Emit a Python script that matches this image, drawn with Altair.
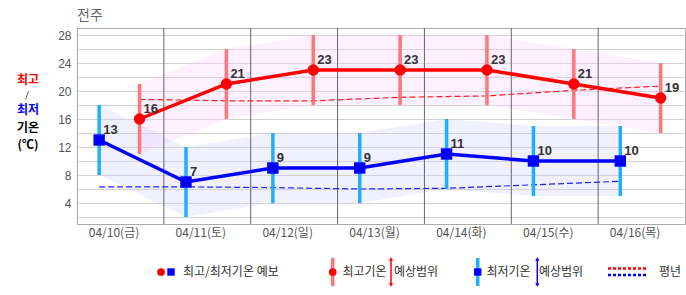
import json
import altair as alt
import pandas as pd

days = ["04/10(금)", "04/11(토)", "04/12(일)", "04/13(월)", "04/14(화)", "04/15(수)", "04/16(목)"]
tmax = [16, 21, 23, 23, 23, 21, 19]
tmin = [13, 7, 9, 9, 11, 10, 10]
max_lo = [11, 16, 18, 18, 18, 16, 14]
max_hi = [21, 26, 28, 28, 28, 26, 24]
min_lo = [8, 2, 4, 4, 6, 5, 5]
min_hi = [18, 12, 14, 14, 16, 15, 15]
norm_max = [18.8, 18.6, 18.6, 19.1, 19.3, 20.1, 20.7]
norm_min = [6.3, 6.3, 6.2, 6.0, 6.1, 6.6, 7.1]

n = len(days)
df = pd.DataFrame({
    "idx": list(range(n)),
    "day": days,
    "tmax": tmax, "tmin": tmin,
    "max_lo": max_lo, "max_hi": max_hi,
    "min_lo": min_lo, "min_hi": min_hi,
    "nmax": norm_max, "nmin": norm_min,
})
df["xmax"] = df["idx"] + 0.72
df["xmin"] = df["idx"] + 0.255
bounds = pd.DataFrame({"b": list(range(1, n))})

KR = "Noto Sans CJK KR"
xs = alt.Scale(domain=[0, n], nice=False, zero=False)
ys = alt.Scale(domain=[1, 29], nice=False, zero=False)
xaxis = alt.Axis(values=[i + 0.42 for i in range(n)],
                 labelExpr=json.dumps(days, ensure_ascii=False) + "[floor(datum.value)]",
                 grid=False, ticks=False, title=None, labelFont=KR, labelFontSize=12,
                 labelColor="#555", labelPadding=3, domainColor="#aaa")
yaxis = alt.Axis(values=list(range(2, 29, 2)),
                 labelExpr="datum.value % 4 == 0 ? datum.label : ''",
                 grid=True, gridColor="#d2d2d2", ticks=False, title=None,
                 labelFont="Liberation Sans", labelFontSize=12, labelColor="#555",
                 labelPadding=6, domainColor="#aaa")


def X(f):
    return alt.X(f, type="quantitative", scale=xs, axis=xaxis)


def Y(f):
    return alt.Y(f, type="quantitative", scale=ys, axis=yaxis)


base = alt.Chart(df)

pink = base.mark_area(color="#ffccff", opacity=0.3).encode(x=X("xmax"), y=Y("max_lo"), y2="max_hi")
lav = base.mark_area(color="#ccccff", opacity=0.3).encode(x=X("xmin"), y=Y("min_lo"), y2="min_hi")
vrules = alt.Chart(bounds).mark_rule(color="#666", strokeWidth=1).encode(x=X("b"))

nmax_l = base.mark_line(color="#ff2020", strokeWidth=1.2, strokeDash=[6, 3]).encode(x=X("xmax"), y=Y("nmax"))
nmin_l = base.mark_line(color="#2020ff", strokeWidth=1.2, strokeDash=[6, 3]).encode(x=X("xmin"), y=Y("nmin"))

rmax = base.mark_rule(color="#ff7777", strokeWidth=3.5).encode(x=X("xmax"), y=Y("max_lo"), y2="max_hi")
rmin = base.mark_rule(color="#1eb0ff", strokeWidth=3.5).encode(x=X("xmin"), y=Y("min_lo"), y2="min_hi")

lmax = base.mark_line(color="#ff0000", strokeWidth=3.5).encode(x=X("xmax"), y=Y("tmax"))
lmin = base.mark_line(color="#0000ff", strokeWidth=3.5).encode(x=X("xmin"), y=Y("tmin"))

pmax = base.mark_point(shape="circle", filled=True, size=130, color="#ff0000", opacity=1).encode(x=X("xmax"), y=Y("tmax"))
pmin = base.mark_point(shape="square", filled=True, size=130, color="#0000ff", opacity=1).encode(x=X("xmin"), y=Y("tmin"))

tstyle = dict(align="left", baseline="middle", dx=4, dy=-10, font="Liberation Sans",
              fontWeight="bold", fontSize=13, color="#333")
tmax_t = base.mark_text(**tstyle).encode(x=X("xmax"), y=Y("tmax"), text="tmax:Q")
tmin_t = base.mark_text(**tstyle).encode(x=X("xmin"), y=Y("tmin"), text="tmin:Q")


def label(txt, x, y, color="#333", size=12, weight="normal", align="left", font=KR):
    return alt.Chart(pd.DataFrame({"t": [txt]})).mark_text(
        align=align, baseline="middle", font=font, fontSize=size, fontWeight=weight, color=color
    ).encode(x=alt.value(x), y=alt.value(y), text="t:N")


one = pd.DataFrame({"k": [0]})


def pt(x, y, shape, color, size):
    return alt.Chart(one).mark_point(shape=shape, filled=True, size=size, color=color, opacity=1).encode(
        x=alt.value(x), y=alt.value(y))


def vbar(x, y1, y2, color, w):
    return alt.Chart(one).mark_rule(color=color, strokeWidth=w).encode(x=alt.value(x), y=alt.value(y1), y2=alt.value(y2))


def hdot(x1, x2, y, color):
    return alt.Chart(one).mark_rule(color=color, strokeWidth=2.5, strokeDash=[3, 2]).encode(
        x=alt.value(x1), x2=alt.value(x2), y=alt.value(y))


extras = [
    label("전주", 0, -12, color="#666", size=14),
    label("최고", -49, 52, color="#ff0000", size=12, weight="bold", align="center"),
    label("/", -50, 66.5, color="#000", size=9, align="center"),
    label("최저", -49, 82, color="#0000ff", size=12, weight="bold", align="center"),
    label("기온", -49, 99.5, color="#000", size=12, weight="bold", align="center"),
    label("(℃)", -49, 116.5, color="#000", size=12, weight="bold", align="center"),
    # legend
    pt(84, 244, "circle", "#ff0000", 60),
    pt(94, 244, "square", "#0000ff", 55),
    label("최고/최저기온 예보", 106, 244),
    vbar(255.7, 230, 258, "#ff7777", 3.5),
    pt(255.7, 244, "circle", "#ff0000", 60),
    label("최고기온", 265.5, 244),
    vbar(314, 232, 256, "#ff0000", 1.5),
    pt(314, 231, "triangle-up", "#ff0000", 18),
    pt(314, 257, "triangle-down", "#ff0000", 18),
    label("예상범위", 317, 244),
    vbar(400.7, 230, 258, "#1eb0ff", 3.5),
    pt(400.7, 244, "square", "#0000ff", 55),
    label("최저기온", 409.5, 244),
    vbar(460.3, 232, 256, "#0000ff", 1.5),
    pt(460.3, 231, "triangle-up", "#0000ff", 18),
    pt(460.3, 257, "triangle-down", "#0000ff", 18),
    label("예상범위", 462, 244),
    hdot(531, 570, 240.5, "#ff0000"),
    hdot(531, 570, 247, "#0000ff"),
    label("평년", 582, 244),
]

chart = alt.layer(
    pink, lav, vrules, nmax_l, nmin_l, rmax, rmin, lmax, lmin, pmax, pmin, tmax_t, tmin_t, *extras
).properties(
    width=608, height=196,
    padding={"left": 77, "top": 28, "right": 1, "bottom": 71},
    autosize=alt.AutoSizeParams(type="none"),
).configure_view(stroke="#aaa")

chart.save("out.html", embed_options={"renderer": "svg", "actions": False})
